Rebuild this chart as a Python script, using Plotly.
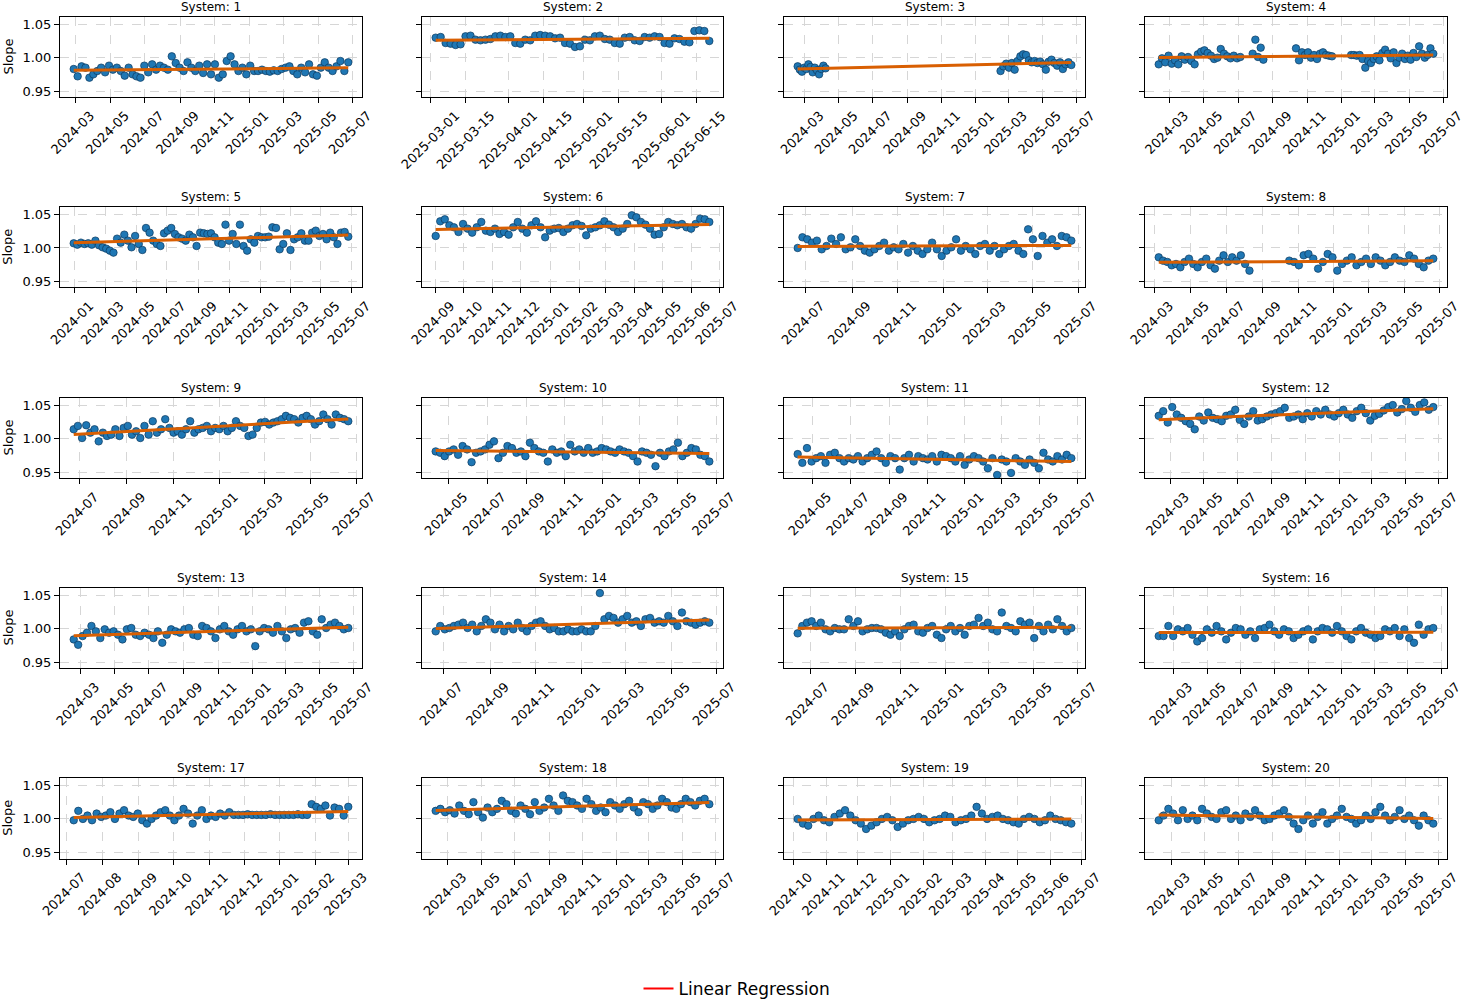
import numpy as np
import pandas as pd
import plotly.graph_objects as go

# ---------------- data ----------------
TICKS_BIMONTH_MAR = ["2024-03", "2024-05", "2024-07", "2024-09", "2024-11", "2025-01", "2025-03", "2025-05", "2025-07"]
TICKS_BIMONTH_JAN = ["2024-01", "2024-03", "2024-05", "2024-07", "2024-09", "2024-11", "2025-01", "2025-03", "2025-05", "2025-07"]
TICKS_BIMONTH_MAY = ["2024-05", "2024-07", "2024-09", "2024-11", "2025-01", "2025-03", "2025-05", "2025-07"]
TICKS_BIMONTH_JUL = ["2024-07", "2024-09", "2024-11", "2025-01", "2025-03", "2025-05", "2025-07"]
TICKS_SEMIMONTH = ["2025-03-01", "2025-03-15", "2025-04-01", "2025-04-15", "2025-05-01", "2025-05-15", "2025-06-01", "2025-06-15"]
TICKS_MONTH_SEP = ["2024-09", "2024-10", "2024-11", "2024-12", "2025-01", "2025-02", "2025-03", "2025-04", "2025-05", "2025-06", "2025-07"]
TICKS_MONTH_JUL = ["2024-07", "2024-08", "2024-09", "2024-10", "2024-11", "2024-12", "2025-01", "2025-02", "2025-03"]
TICKS_MONTH_OCT = ["2024-10", "2024-11", "2024-12", "2025-01", "2025-02", "2025-03", "2025-04", "2025-05", "2025-06", "2025-07"]

Y_TICKS = [0.95, 1.00, 1.05]
Y_TICK_LABELS = ["0.95", "1.00", "1.05"]

S1_SPANS = [("2024-02-27", "2025-06-23")]
S1_VALUES = [[0.983, 0.972, 0.987, 0.985, 0.970, 0.975, 0.980, 0.985, 0.978, 0.988, 0.982, 0.985, 0.980, 0.973, 0.985,
              0.975, 0.972, 0.970, 0.988, 0.978, 0.990, 0.982, 0.988, 0.985, 0.982, 1.002, 0.992, 0.985, 0.980, 0.993,
              0.985, 0.980, 0.988, 0.977, 0.990, 0.975, 0.990, 0.970, 0.975, 0.995, 1.002, 0.990, 0.980, 0.985, 0.975,
              0.988, 0.980, 0.980, 0.982, 0.980, 0.979, 0.981, 0.980, 0.983, 0.985, 0.987, 0.980, 0.975, 0.985, 0.978,
              0.990, 0.975, 0.973, 0.985, 0.993, 0.985, 0.980, 0.987, 0.995, 0.980, 0.993]]

S2_SPANS = [("2025-03-03", "2025-06-20")]
S2_VALUES = [[1.030, 1.031, 1.022, 1.021, 1.019, 1.020, 1.032, 1.033, 1.027, 1.026, 1.027, 1.028, 1.032, 1.033, 1.031,
              1.032, 1.022, 1.021, 1.027, 1.026, 1.033, 1.034, 1.033, 1.032, 1.029, 1.030, 1.022, 1.021, 1.016, 1.017,
              1.027, 1.026, 1.032, 1.033, 1.028, 1.027, 1.022, 1.021, 1.030, 1.031, 1.026, 1.025, 1.031, 1.030, 1.032,
              1.031, 1.022, 1.021, 1.029, 1.028, 1.024, 1.023, 1.040, 1.041, 1.040, 1.025]]

S3_SPANS = [("2024-02-17", "2024-04-07"), ("2025-02-15", "2025-06-22")]
S3_VALUES = [[0.987, 0.982, 0.979, 0.985, 0.983, 0.990, 0.986, 0.978, 0.985, 0.981, 0.975, 0.983, 0.988, 0.984],
             [0.980, 0.987, 0.991, 0.985, 0.992, 0.982, 0.995, 1.002, 1.005, 1.004, 0.996, 0.993, 0.995, 0.992,
              0.994, 0.990, 0.982, 0.994, 0.997, 0.992, 0.988, 0.993, 0.983, 0.990, 0.993, 0.989]]

S4_SPANS = [("2024-02-11", "2024-07-05"), ("2024-07-27", "2024-08-15"), ("2024-10-12", "2024-12-15"), ("2025-01-18", "2025-06-13")]
S4_VALUES = [[0.990, 0.999, 0.993, 1.003, 0.991, 0.996, 0.990, 1.002, 0.997, 1.001, 0.995, 0.990, 1.005, 1.009, 1.011,
              1.007, 1.003, 0.998, 1.000, 1.013, 1.006, 1.002, 0.999, 1.003, 0.999, 1.001],
             [1.006, 1.027, 1.001, 1.015, 0.997],
             [1.014, 0.996, 1.008, 1.004, 1.008, 1.000, 1.004, 0.998, 1.006, 1.008, 1.004, 1.003, 1.002],
             [1.004, 1.004, 1.003, 1.004, 0.998, 0.985, 0.995, 0.992, 0.998, 1.002, 0.996, 1.007, 1.012, 1.006, 0.999,
              1.008, 0.992, 1.000, 1.006, 0.998, 1.003, 0.997, 1.007, 1.001, 1.017, 1.006, 1.000, 1.004, 1.014, 1.006]]

S5_SPANS = [("2023-12-30", "2025-06-24")]
S5_VALUES = [[1.007, 1.005, 1.008, 1.006, 1.007, 1.005, 1.011, 1.004, 1.001, 0.999, 0.996, 0.993, 1.014, 1.008, 1.020,
              1.011, 1.001, 1.018, 1.006, 0.997, 1.030, 1.023, 1.011, 1.006, 1.003, 1.022, 1.026, 1.030, 1.021, 1.016,
              1.014, 1.011, 1.020, 1.016, 1.003, 1.023, 1.022, 1.021, 1.022, 1.016, 1.008, 1.006, 1.035, 1.011, 1.021,
              1.006, 1.035, 1.003, 0.996, 1.013, 1.008, 1.018, 1.016, 1.016, 1.017, 1.031, 1.030, 0.998, 1.006, 1.022,
              0.997, 1.013, 1.016, 1.022, 1.011, 1.011, 1.023, 1.026, 1.018, 1.021, 1.013, 1.023, 1.016, 1.006, 1.023,
              1.024, 1.017]]

S6_SPANS = [("2024-09-01", "2025-06-20")]
S6_VALUES = [[1.018, 1.040, 1.043, 1.034, 1.031, 1.024, 1.036, 1.029, 1.023, 1.031, 1.039, 1.026, 1.024, 1.029, 1.021,
              1.024, 1.020, 1.031, 1.039, 1.029, 1.023, 1.034, 1.040, 1.031, 1.016, 1.026, 1.029, 1.030, 1.024, 1.029,
              1.034, 1.036, 1.033, 1.019, 1.029, 1.031, 1.034, 1.040, 1.035, 1.031, 1.024, 1.029, 1.036, 1.049, 1.046,
              1.039, 1.035, 1.029, 1.020, 1.021, 1.031, 1.039, 1.036, 1.034, 1.036, 1.031, 1.029, 1.036, 1.044, 1.043,
              1.039]]

S7_SPANS = [("2024-06-20", "2025-06-22")]
S7_VALUES = [[1.000, 1.016, 1.013, 1.008, 1.011, 0.998, 1.003, 1.014, 1.006, 1.016, 0.998, 1.001, 1.013, 1.003, 0.996,
              0.993, 0.998, 1.003, 1.008, 0.996, 1.001, 0.998, 1.006, 0.993, 1.003, 0.996, 0.991, 0.998, 1.008, 0.998,
              0.988, 0.996, 1.001, 1.013, 0.996, 1.003, 0.998, 0.991, 1.003, 1.006, 0.996, 1.003, 0.991, 0.998, 1.003,
              1.006, 0.996, 0.991, 1.028, 1.013, 0.988, 1.018, 1.008, 1.013, 1.003, 1.018, 1.016, 1.011]]

S8_SPANS = [("2024-03-08", "2024-08-10"), ("2024-10-17", "2025-06-20")]
S8_VALUES = [[0.986, 0.981, 0.979, 0.974, 0.976, 0.971, 0.979, 0.984, 0.976, 0.971, 0.979, 0.984, 0.974, 0.969, 0.981,
              0.989, 0.979, 0.986, 0.981, 0.989, 0.976, 0.966],
             [0.981, 0.979, 0.974, 0.989, 0.991, 0.984, 0.969, 0.979, 0.991, 0.986, 0.966, 0.976, 0.981, 0.986, 0.974,
              0.979, 0.984, 0.976, 0.986, 0.981, 0.974, 0.979, 0.986, 0.981, 0.979, 0.989, 0.984, 0.976, 0.971, 0.981,
              0.984]]

S9_SPANS = [("2024-06-23", "2025-06-20")]
S9_VALUES = [[1.014, 1.019, 1.001, 1.020, 1.009, 1.014, 0.996, 1.009, 1.004, 1.006, 1.014, 1.004, 1.016, 1.019, 1.006,
              1.011, 1.001, 1.019, 1.006, 1.026, 1.009, 1.014, 1.029, 1.016, 1.009, 1.011, 1.006, 1.014, 1.026, 1.009,
              1.014, 1.016, 1.019, 1.011, 1.016, 1.014, 1.019, 1.011, 1.016, 1.026, 1.019, 1.016, 1.004, 1.006, 1.016,
              1.024, 1.025, 1.021, 1.024, 1.026, 1.029, 1.034, 1.031, 1.029, 1.024, 1.031, 1.034, 1.029, 1.021, 1.026,
              1.036, 1.029, 1.021, 1.036, 1.031, 1.029, 1.026]]

S10_SPANS = [("2024-04-10", "2025-06-20")]
S10_VALUES = [[0.981, 0.979, 0.974, 0.981, 0.984, 0.976, 0.989, 0.984, 0.965, 0.979, 0.981, 0.984, 0.991, 0.996, 0.971,
               0.979, 0.989, 0.986, 0.979, 0.981, 0.974, 0.994, 0.986, 0.981, 0.979, 0.966, 0.984, 0.979, 0.981, 0.974,
               0.991, 0.981, 0.984, 0.979, 0.986, 0.979, 0.981, 0.986, 0.984, 0.981, 0.979, 0.984, 0.981, 0.979, 0.974,
               0.966, 0.981, 0.979, 0.976, 0.959, 0.979, 0.974, 0.981, 0.984, 0.994, 0.974, 0.979, 0.986, 0.984, 0.976,
               0.974, 0.966]]

S11_SPANS = [("2024-04-07", "2025-06-21")]
S11_VALUES = [[0.977, 0.964, 0.986, 0.966, 0.971, 0.974, 0.964, 0.976, 0.979, 0.971, 0.966, 0.971, 0.969, 0.974, 0.966,
               0.971, 0.976, 0.981, 0.971, 0.964, 0.974, 0.971, 0.954, 0.971, 0.976, 0.966, 0.974, 0.971, 0.969, 0.974,
               0.966, 0.976, 0.974, 0.971, 0.966, 0.974, 0.961, 0.969, 0.974, 0.971, 0.966, 0.956, 0.971, 0.946, 0.969,
               0.966, 0.949, 0.971, 0.966, 0.961, 0.969, 0.964, 0.956, 0.979, 0.969, 0.966, 0.974, 0.969, 0.976, 0.971]]

S12_SPANS = [("2024-02-09", "2025-06-21")]
S12_VALUES = [[1.034, 1.041, 1.024, 1.047, 1.036, 1.031, 1.026, 1.022, 1.014, 1.033, 1.027, 1.039, 1.031, 1.029, 1.026,
               1.034, 1.036, 1.043, 1.028, 1.022, 1.033, 1.041, 1.027, 1.029, 1.033, 1.036, 1.038, 1.041, 1.046, 1.031,
               1.033, 1.036, 1.029, 1.038, 1.033, 1.041, 1.036, 1.043, 1.036, 1.033, 1.038, 1.043, 1.036, 1.031, 1.041,
               1.046, 1.038, 1.027, 1.034, 1.037, 1.042, 1.047, 1.050, 1.039, 1.044, 1.056, 1.046, 1.040, 1.050, 1.054,
               1.043, 1.047]]

S13_SPANS = [("2024-02-18", "2025-06-21")]
S13_VALUES = [[0.984, 0.976, 0.989, 0.994, 1.004, 0.996, 0.986, 0.999, 0.994, 0.996, 0.991, 0.984, 0.999, 1.001, 0.991,
               0.989, 0.994, 0.991, 0.986, 0.996, 0.979, 0.991, 0.999, 0.996, 0.994, 0.999, 1.001, 0.991, 0.989, 1.004,
               1.001, 0.996, 0.986, 0.999, 1.004, 0.996, 0.991, 0.999, 1.004, 0.996, 0.999, 0.974, 0.996, 1.001, 0.999,
               0.994, 1.004, 0.996, 0.986, 0.999, 1.001, 0.994, 1.009, 1.011, 0.996, 0.991, 1.014, 1.001, 1.006, 1.009,
               1.004, 0.999, 1.001]]

S14_SPANS = [("2024-06-20", "2025-06-21")]
S14_VALUES = [[0.996, 1.004, 0.999, 1.001, 1.004, 1.006, 1.009, 1.001, 1.006, 0.996, 1.004, 1.014, 1.009, 0.999, 1.006,
               0.996, 1.004, 0.999, 1.009, 1.001, 0.996, 1.004, 1.009, 1.011, 1.004, 0.999, 1.001, 0.996, 0.996, 0.999,
               0.996, 0.996, 0.999, 0.996, 0.996, 1.004, 1.053, 1.014, 1.019, 1.016, 1.009, 1.014, 1.019, 1.009, 1.011,
               1.004, 1.014, 1.016, 1.009, 1.011, 1.009, 1.019, 1.011, 1.004, 1.024, 1.011, 1.009, 1.006, 1.009, 1.011,
               1.009]]

S15_SPANS = [("2024-06-14", "2025-06-22")]
S15_VALUES = [[0.993, 1.004, 1.009, 1.011, 1.004, 1.009, 0.999, 0.996, 1.001, 0.999, 0.999, 1.014, 1.004, 1.011, 0.996,
               0.999, 1.001, 1.001, 0.999, 0.994, 0.991, 0.996, 0.989, 0.999, 1.004, 1.006, 0.996, 0.994, 1.001, 1.004,
               0.991, 0.986, 0.999, 1.004, 0.996, 1.001, 0.991, 1.004, 1.006, 1.016, 1.004, 1.009, 0.999, 0.996, 1.024,
               1.004, 1.001, 0.996, 1.011, 1.006, 1.009, 0.986, 1.004, 0.996, 1.006, 0.999, 1.014, 1.004, 0.996, 1.001]]

S16_SPANS = [("2024-02-03", "2025-06-16")]
S16_VALUES = [[0.989, 0.989, 1.004, 0.989, 0.999, 0.996, 1.001, 0.991, 0.981, 0.986, 0.999, 0.994, 1.004, 0.996, 0.984,
               0.994, 1.001, 0.999, 0.991, 0.996, 0.986, 0.999, 1.001, 1.006, 0.996, 0.991, 0.999, 0.996, 0.986, 0.991,
               0.996, 0.999, 0.984, 0.996, 1.001, 0.999, 0.994, 1.004, 0.996, 0.989, 0.984, 0.996, 1.001, 0.994, 0.991,
               0.986, 0.989, 0.999, 0.996, 1.001, 0.989, 0.999, 0.986, 0.979, 1.006, 0.991, 0.999, 1.001]]

S17_SPANS = [("2024-07-07", "2025-03-01")]
S17_VALUES = [[0.998, 1.012, 1.000, 1.005, 0.998, 1.008, 1.003, 1.005, 1.010, 1.000, 1.008, 1.013, 1.005, 1.003, 1.008,
               0.998, 0.993, 1.000, 1.005, 1.010, 1.013, 1.005, 0.998, 1.005, 1.015, 1.008, 0.993, 1.005, 1.013, 1.000,
               1.005, 1.003, 1.008, 1.005, 1.010, 1.006, 1.006, 1.006, 1.007, 1.006, 1.006, 1.006, 1.006, 1.007, 1.006,
               1.006, 1.006, 1.006, 1.006, 1.007, 1.006, 1.006, 1.022, 1.018, 1.015, 1.020, 1.005, 1.017, 1.015, 1.005,
               1.018]]

S18_SPANS = [("2024-02-08", "2025-06-19")]
S18_VALUES = [[1.012, 1.015, 1.010, 1.013, 1.008, 1.020, 1.012, 1.007, 1.025, 1.010, 1.002, 1.017, 1.010, 1.015, 1.027,
               1.022, 1.012, 1.008, 1.020, 1.015, 1.007, 1.025, 1.012, 1.017, 1.030, 1.020, 1.012, 1.035, 1.027, 1.025,
               1.020, 1.015, 1.030, 1.022, 1.012, 1.017, 1.010, 1.025, 1.020, 1.015, 1.022, 1.027, 1.017, 1.010, 1.025,
               1.022, 1.015, 1.020, 1.030, 1.025, 1.017, 1.015, 1.022, 1.030, 1.025, 1.020, 1.027, 1.030, 1.022]]

S19_SPANS = [("2024-10-05", "2025-06-21")]
S19_VALUES = [[1.000, 0.993, 0.990, 1.000, 1.005, 0.998, 0.995, 1.003, 1.008, 1.013, 1.005, 0.998, 0.993, 0.985, 0.990,
               0.995, 1.000, 1.003, 0.998, 0.988, 0.993, 0.998, 1.000, 1.003, 1.000, 0.995, 0.998, 1.000, 1.005, 1.003,
               0.995, 0.998, 1.000, 1.005, 1.018, 1.008, 1.000, 1.003, 1.005, 1.000, 0.998, 0.995, 0.993, 1.000, 1.003,
               1.000, 0.995, 0.998, 1.005, 1.000, 0.998, 0.995, 0.993]]

S20_SPANS = [("2024-02-07", "2025-06-21")]
S20_VALUES = [[0.998, 1.005, 1.015, 1.008, 0.998, 1.013, 1.000, 1.005, 0.998, 1.015, 1.008, 1.003, 1.000, 1.010, 1.013,
               1.000, 1.005, 0.998, 1.008, 1.003, 1.013, 1.005, 0.998, 1.000, 1.005, 1.008, 1.013, 1.003, 0.993, 0.985,
               0.998, 1.005, 0.993, 1.003, 1.010, 0.993, 1.000, 1.005, 1.015, 1.003, 1.000, 0.993, 0.998, 1.005, 1.000,
               1.010, 1.018, 1.005, 0.998, 1.003, 1.013, 1.000, 1.005, 0.998, 0.990, 1.005, 0.998, 0.993]]

SYSTEM_NAMES = [str(i) for i in range(1, 21)]
SYSTEM_SPANS = [S1_SPANS, S2_SPANS, S3_SPANS, S4_SPANS, S5_SPANS, S6_SPANS, S7_SPANS, S8_SPANS, S9_SPANS, S10_SPANS,
                S11_SPANS, S12_SPANS, S13_SPANS, S14_SPANS, S15_SPANS, S16_SPANS, S17_SPANS, S18_SPANS, S19_SPANS, S20_SPANS]
SYSTEM_VALUES = [S1_VALUES, S2_VALUES, S3_VALUES, S4_VALUES, S5_VALUES, S6_VALUES, S7_VALUES, S8_VALUES, S9_VALUES,
                 S10_VALUES, S11_VALUES, S12_VALUES, S13_VALUES, S14_VALUES, S15_VALUES, S16_VALUES, S17_VALUES,
                 S18_VALUES, S19_VALUES, S20_VALUES]
SYSTEM_TICKS = [TICKS_BIMONTH_MAR, TICKS_SEMIMONTH, TICKS_BIMONTH_MAR, TICKS_BIMONTH_MAR,
                TICKS_BIMONTH_JAN, TICKS_MONTH_SEP, TICKS_BIMONTH_JUL, TICKS_BIMONTH_MAR,
                TICKS_BIMONTH_JUL, TICKS_BIMONTH_MAY, TICKS_BIMONTH_MAY, TICKS_BIMONTH_MAR,
                TICKS_BIMONTH_MAR, TICKS_BIMONTH_JUL, TICKS_BIMONTH_JUL, TICKS_BIMONTH_MAR,
                TICKS_MONTH_JUL, TICKS_BIMONTH_MAR, TICKS_MONTH_OCT, TICKS_BIMONTH_MAR]

# ---------------- layout geometry ----------------
W, H = 1466, 999
COL_PX = [(60, 362), (422, 723), (784, 1085), (1145, 1447)]
ROW_PX = [(17, 97), (207.3, 287.3), (397.7, 478.3), (587.7, 668.3), (778, 858.5)]
FONT = "DejaVu Sans"
POINT_COLOR = "#1f77b4"
POINT_EDGE = "#0d3a5e"
REG_COLOR = "#d95f02"
GRID_COLOR = "#d6d6d6"

fig = go.Figure()
layout = dict(
    width=W, height=H,
    margin=dict(l=0, r=0, t=0, b=0, autoexpand=False),
    paper_bgcolor="white", plot_bgcolor="white",
    font=dict(family=FONT, size=13, color="black"),
    showlegend=True,
    legend=dict(orientation="h", x=0.5 + 4 / W, xanchor="center", y=1 - 989 / H, yanchor="middle",
                font=dict(size=17, family=FONT, color="black"), bgcolor="rgba(0,0,0,0)"),
    annotations=[],
)

for i in range(20):
    r, c = divmod(i, 4)
    n = i + 1
    xs = "x" if n == 1 else f"x{n}"
    ys = "y" if n == 1 else f"y{n}"
    xname = "xaxis" if n == 1 else f"xaxis{n}"
    yname = "yaxis" if n == 1 else f"yaxis{n}"

    all_d, all_v = [], []
    for (start, end), vals in zip(SYSTEM_SPANS[i], SYSTEM_VALUES[i]):
        d = pd.date_range(start, end, periods=len(vals))
        all_d.extend(list(d))
        all_v.extend(vals)
    all_d = pd.DatetimeIndex(all_d)
    all_v = np.array(all_v, dtype=float)

    fig.add_trace(go.Scatter(x=all_d, y=all_v, mode="markers", xaxis=xs, yaxis=ys, showlegend=False,
                             marker=dict(size=7.5, color=POINT_COLOR, line=dict(color=POINT_EDGE, width=0.7))))
    # linear regression on the data
    t = (all_d - all_d[0]).total_seconds().values / 86400.0
    k, b = np.polyfit(t, all_v, 1)
    fig.add_trace(go.Scatter(x=all_d, y=k * t + b, mode="lines", xaxis=xs, yaxis=ys, showlegend=False,
                             line=dict(color=REG_COLOR, width=3)))

    # x range with 5% margins
    span = all_d.max() - all_d.min()
    lo = all_d.min() - span * 0.05
    hi = all_d.max() + span * 0.05

    ticks = SYSTEM_TICKS[i]
    tickvals = [tk if len(tk) == 10 else tk + "-01" for tk in ticks]
    shift = 25 if len(ticks[0]) == 10 else 15

    x0, x1 = COL_PX[c]
    y0, y1 = ROW_PX[r]
    layout[xname] = dict(
        domain=[x0 / W, x1 / W], anchor=ys, type="date", range=[lo, hi],
        tickmode="array", tickvals=tickvals, ticktext=ticks, tickangle=-45,
        ticks="outside", ticklen=5, tickwidth=1, tickcolor="black",
        showline=True, linecolor="black", linewidth=1, mirror=True,
        showgrid=True, gridcolor=GRID_COLOR, griddash="dash", gridwidth=1, zeroline=False,
        tickfont=dict(size=13, family=FONT, color="black"), ticklabelshift=shift,
        ticklabeloverflow="allow", automargin=False, fixedrange=True,
    )
    layout[yname] = dict(
        domain=[1 - y1 / H, 1 - y0 / H], anchor=xs, range=[0.941, 1.061],
        tickmode="array", tickvals=Y_TICKS, ticktext=Y_TICK_LABELS, showticklabels=(c == 0),
        ticks="outside", ticklen=5, tickwidth=1, tickcolor="black",
        showline=True, linecolor="black", linewidth=1, mirror=True,
        showgrid=True, gridcolor=GRID_COLOR, griddash="dash", gridwidth=1, zeroline=False,
        tickfont=dict(size=13, family=FONT, color="black"), automargin=False, fixedrange=True,
    )
    layout["annotations"].append(dict(
        text=f"System: {SYSTEM_NAMES[i]}", xref="paper", yref="paper",
        x=(x0 + x1) / 2 / W, y=1 - (y0 - 10) / H, xanchor="center", yanchor="middle",
        showarrow=False, font=dict(size=12, family=FONT, color="black")))
    if c == 0:
        layout["annotations"].append(dict(
            text="Slope", xref="paper", yref="paper", x=7.5 / W, y=1 - (y0 + y1) / 2 / H,
            xanchor="center", yanchor="middle", textangle=-90, showarrow=False,
            font=dict(size=13, family=FONT, color="black")))

# legend entry (proxy)
fig.add_trace(go.Scatter(x=[None], y=[None], mode="lines", name="Linear Regression",
                         line=dict(color="red", width=2), showlegend=True))

fig.update_layout(**layout)
fig.write_html("out.html", config={"displayModeBar": False},
               post_script="document.body.style.margin='0px';")
